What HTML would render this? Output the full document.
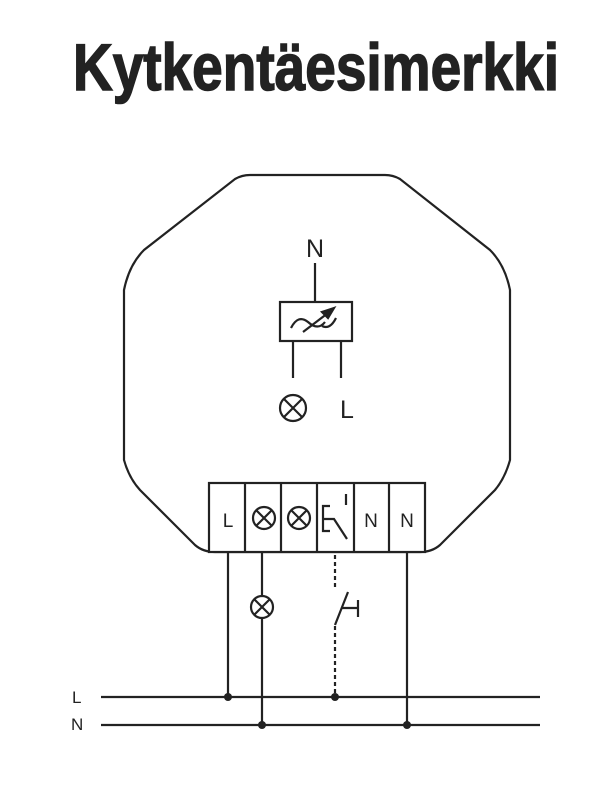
<!DOCTYPE html>
<html><head><meta charset="utf-8"><style>html,body{margin:0;padding:0;background:#fff}svg{display:block}</style></head>
<body>
<svg width="616" height="800" viewBox="0 0 616 800" xmlns="http://www.w3.org/2000/svg">
<text x="73" y="90" font-family="Liberation Sans, sans-serif" font-weight="bold" font-size="66" fill="#222" stroke="#222" stroke-width="1.5" textLength="486" lengthAdjust="spacingAndGlyphs">Kytkentäesimerkki</text>
<g stroke="#222" stroke-width="2.2" fill="none">
<path d="M250 175 L385 175 Q393 175 400 179 L490 250 Q505 265 510 290 L510 460 Q505 478 495 490 L440 545 Q432 552 420 552 L215 552 Q203 552 195 545 L140 490 Q129 478 124 460 L124 290 Q129 265 144 250 L235 179 Q242 175 250 175 Z"/>
<rect x="209" y="483" width="216" height="69" fill="#fff"/>
<line x1="245" y1="483" x2="245" y2="552"/><line x1="281" y1="483" x2="281" y2="552"/><line x1="317" y1="483" x2="317" y2="552"/><line x1="354" y1="483" x2="354" y2="552"/><line x1="389" y1="483" x2="389" y2="552"/>
<circle cx="264" cy="518" r="11"/><path d="M256 510 L272 526 M272 510 L256 526"/>
<circle cx="299" cy="518" r="11"/><path d="M291 510 L307 526 M307 510 L291 526"/>
<path d="M330 506 L323 506 L323 531 L330 531 M323 519 L334 519 L347 539 M346 494 L346 505"/>
<rect x="280" y="302" width="72" height="39"/>
<line x1="315" y1="263" x2="315" y2="302"/>
<line x1="293" y1="341" x2="293" y2="378"/><line x1="341" y1="341" x2="341" y2="378"/>
<path d="M291 328 Q298 314 308 322 Q318 331 325 322"/>
<path d="M303 332 L328 313" /><path d="M334 308 L322 312 L328 318 Z" fill="#222"/>
<path d="M322 326 Q330 330 336 318"/>
<circle cx="293" cy="408" r="13"/><path d="M284 399 L302 417 M302 399 L284 417"/>
<line x1="228" y1="552" x2="228" y2="697"/>
<line x1="262" y1="552" x2="262" y2="596"/><line x1="262" y1="618" x2="262" y2="725"/>
<circle cx="262" cy="607" r="11"/><path d="M254 599 L270 615 M270 599 L254 615"/>
<line x1="335" y1="555" x2="335" y2="590" stroke-dasharray="4 3"/>
<line x1="335" y1="626" x2="335" y2="695" stroke-dasharray="4 3"/>
<path d="M335 625 L348 592 M342 608 L358 608 M358 600 L358 617"/>
<line x1="407" y1="552" x2="407" y2="725"/>
<line x1="101" y1="697" x2="540" y2="697"/>
<line x1="101" y1="725" x2="540" y2="725"/>
</g>
<g fill="#222">
<circle cx="228" cy="697" r="4"/><circle cx="335" cy="697" r="4"/><circle cx="262" cy="725" r="4"/><circle cx="407" cy="725" r="4"/>
</g>
<g font-family="Liberation Sans, sans-serif" fill="#222">
<text x="315" y="257" font-size="25" text-anchor="middle">N</text>
<text x="347" y="418" font-size="25" text-anchor="middle">L</text>
<text x="228" y="527" font-size="19" text-anchor="middle">L</text>
<text x="371" y="527" font-size="19" text-anchor="middle">N</text>
<text x="407" y="527" font-size="19" text-anchor="middle">N</text>
<text x="72" y="703" font-size="17">L</text>
<text x="71" y="730" font-size="17">N</text>
</g>
</svg>
</body></html>
